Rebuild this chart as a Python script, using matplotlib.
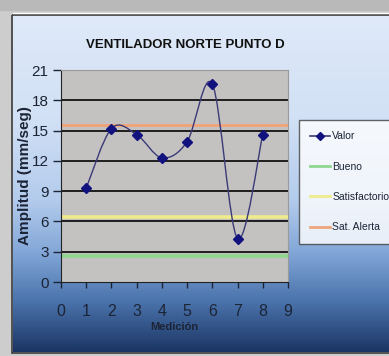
import matplotlib
matplotlib.use("Agg")
import matplotlib.pyplot as plt
import numpy as np
from matplotlib.colors import LinearSegmentedColormap
from matplotlib.lines import Line2D
from matplotlib.patches import Rectangle, PathPatch
from matplotlib.path import Path

plt.rcParams["font.family"] = ["Liberation Sans", "DejaVu Sans"]

medicion = [1, 2, 3, 4, 5, 6, 7, 8]
valor = [9.3, 15.2, 14.6, 12.3, 13.9, 19.6, 4.3, 14.6]
limite_bueno = 2.6
limite_satisfactorio = 6.4
limite_alerta = 15.6
x_ticks = list(range(0, 10))
y_ticks = list(range(0, 22, 3))
labels = ["Valor", "Bueno", "Satisfactorio", "Sat. Alerta"]

W, H = 389, 356
TXT = "#1c2436"


def px(x, y):
    # pixel (top-left origin) -> figure fraction
    return x / W, 1 - y / H


def smooth_path(xs, ys):
    # bezier path like excel's smoothed line
    pts = np.column_stack([xs, ys]).astype(float)
    ext = np.vstack([pts[0], pts, pts[-1]])
    verts = [pts[0]]
    codes = [Path.MOVETO]
    for i in range(1, len(ext) - 2):
        p0, p1, p2, p3 = ext[i - 1], ext[i], ext[i + 1], ext[i + 2]
        c1 = p1 + (p2 - p0) / 6
        c2 = p2 - (p3 - p1) / 6
        verts += [c1, c2, p2]
        codes += [Path.CURVE4] * 3
    return Path(verts, codes)


fig = plt.figure(figsize=(W / 100, H / 100), dpi=100)
fig.patch.set_facecolor("#cdcdcd")

# background panel with the blue gradient
bg = fig.add_axes([0, 0, 1, 1])
bg.set_xlim(0, W)
bg.set_ylim(H, 0)
bg.axis("off")
grad = LinearSegmentedColormap.from_list(
    "panel",
    [(0.0, "#dfe9f9"), (0.3, "#d2e1f5"), (0.55, "#b3cbec"),
     (0.7, "#84a8d8"), (0.85, "#4b74ad"), (1.0, "#1b3563")],
)
bg.imshow(np.linspace(0, 1, 256).reshape(-1, 1), cmap=grad, aspect="auto",
          extent=(13, W, 352, 15), zorder=1)
bg.add_patch(Rectangle((0, 0), W, 10, color="#b9b9b9", zorder=0))
bg.add_patch(Rectangle((12.5, 14.5), W, 338, fill=False, ec="#3c3c3c", lw=1.2, zorder=2))
bg.plot([13, W], [13, 13], color="white", lw=1, zorder=2)

ax = fig.add_axes([61 / W, 1 - 282 / H, 227 / W, 212 / H])
ax.set_facecolor("#c3c2c0")
ax.set_xlim(0, 9)
ax.set_ylim(0, 21)

for yv in y_ticks[1:-1]:
    ax.axhline(yv, color="#111111", lw=1.3, zorder=1)

ax.axhline(limite_bueno, color="#8fd68f", lw=2.6, zorder=2)
ax.axhline(limite_satisfactorio, color="#f0ec8c", lw=2.6, zorder=2)
ax.axhline(limite_alerta, color="#eea57c", lw=2.2, zorder=2)

ax.add_patch(PathPatch(smooth_path(medicion, valor), fc="none", ec="#3a3a78", lw=1.0, zorder=3))
ax.plot(medicion, valor, ls="none", marker="D", ms=5, color="#12127e", zorder=4)

ax.set_xticks(x_ticks)
ax.set_yticks(y_ticks)
ax.tick_params(axis="x", direction="out", length=4, width=1, pad=12, labelsize=11.5,
               colors=TXT)
ax.tick_params(axis="y", direction="out", length=6, width=1, pad=3, labelsize=11,
               colors=TXT)
for side in ("left", "bottom"):
    ax.spines[side].set_color("#222222")
for side in ("top", "right"):
    ax.spines[side].set_color("#9a9a9a")

ax.set_xlabel("Medición", fontsize=8, fontweight="bold", color=TXT, labelpad=2)
fig.text(25 / W, 1 - 176 / H, "Amplitud (mm/seg)", rotation=90, ha="center", va="center",
         fontsize=11, fontweight="bold", color=TXT)
fig.text(185 / W, 1 - 45 / H, "VENTILADOR NORTE PUNTO D", ha="center", va="center",
         fontsize=9.5, fontweight="bold", color="#111111")

handles = [
    Line2D([], [], color="#3a3a78", lw=1.2, marker="D", ms=4, markerfacecolor="#12127e",
           markeredgecolor="#12127e"),
    Line2D([], [], color="#8fd68f", lw=2),
    Line2D([], [], color="#f0ec8c", lw=2),
    Line2D([], [], color="#eea57c", lw=2),
]
leg = fig.legend(handles, labels, loc="upper left", bbox_to_anchor=px(299, 120),
                 frameon=True, fancybox=False, fontsize=7.5, handlelength=1.9,
                 handletextpad=0.2, labelspacing=1.95, borderpad=1.1, borderaxespad=0)
leg.get_frame().set_edgecolor("#404040")
leg.get_frame().set_linewidth(1)
for t in leg.get_texts():
    t.set_color(TXT)

fig.savefig("out.png", dpi=100, facecolor=fig.get_facecolor())
